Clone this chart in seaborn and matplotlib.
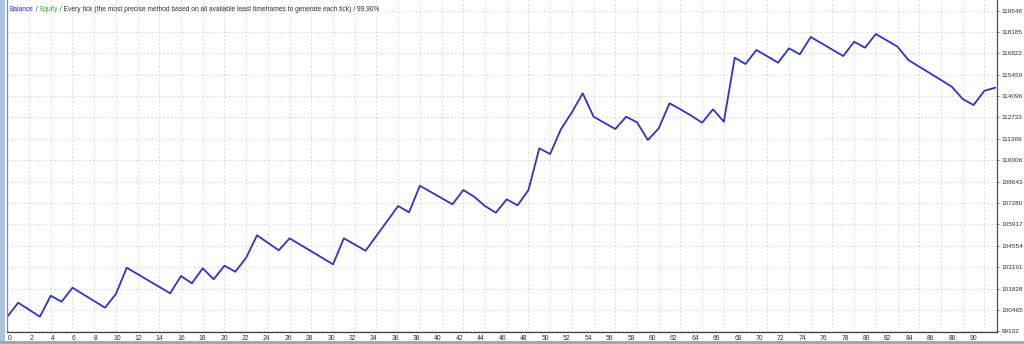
import matplotlib
matplotlib.use("Agg")
import matplotlib.pyplot as plt
import seaborn as sns
import pandas as pd
from matplotlib.patches import Rectangle

# ---------------- data ----------------
trade_numbers = list(range(92))
balance = [
    100039, 100931, 100485, 100039, 101377, 100994, 101887, 101462, 101037, 100612,
    101485, 103161, 102753, 102345, 101938, 101530, 102632, 102167, 103123, 102422,
    103288, 102906, 103798, 105226, 104748, 104270, 105034, 104620, 104206, 103792,
    103378, 105034, 104639, 104244, 105193, 106143, 107092, 106691, 108386, 107991,
    107596, 107201, 108112, 107685, 107092, 106666, 107519, 107137, 108112, 110769,
    110406, 111999, 113063, 114274, 112783, 112391, 111999, 112783, 112426, 111298,
    112044, 113637, 113254, 112846, 112400, 113254, 112464, 116542, 116141, 117033,
    116631, 116224, 117141, 116759, 117861, 117460, 117052, 116650, 117562, 117179,
    118052, 117651, 117243, 116396, 115969, 115548, 115121, 114694, 113911, 113528,
    114439, 114631,
]
y_ticks = [99102, 100465, 101828, 103191, 104554, 105917, 107280, 108643,
           110006, 111369, 112733, 114096, 115459, 116822, 118185, 119548]
x_ticks = list(range(0, 91, 2))
header_parts = [
    ("Balance", "#2a2ad0"),
    (" / ", "#303030"),
    ("Equity", "#22b822"),
    (" / Every tick (the most precise method based on all available least timeframes to generate each tick) / 99.90%", "#303030"),
]

df = pd.DataFrame({"trade": trade_numbers, "balance": balance})

# ---------------- style ----------------
sns.set_theme(style="white")
plt.rcParams['font.family'] = ['Liberation Sans', 'DejaVu Sans']

W, H = 1024, 344
fig = plt.figure(figsize=(W / 100, H / 100), dpi=100)
fig.patch.set_facecolor("white")
ax = fig.add_axes([7 / W, 12 / H, 990 / W, 332 / H])
ax.set_facecolor("white")

sns.lineplot(data=df, x="trade", y="balance", color="#3232c8", linewidth=1.3, ax=ax)

ax.set_xlim(-0.03, 91.16)
ax.set_ylim(99064, 120220)

# y axis on the right
ax.yaxis.tick_right()
ax.set_yticks(y_ticks)
ax.set_yticklabels([str(v) for v in y_ticks])
ax.tick_params(axis="y", which="major", right=True, left=False, length=2, width=0.6,
               color="#909090", labelsize=4.6, pad=1.2, labelcolor="#303030")

# x grid at even trades (minor), labels on slightly drifting positions (major)
ax.set_xticks(x_ticks, minor=True)
ax.set_xticks([0.221 + 0.9865 * v for v in x_ticks])
ax.set_xticklabels([str(v) for v in x_ticks])
ax.tick_params(axis="x", which="both", length=0, labelsize=4.9, pad=2.5, labelcolor="#303030")

grid_kw = dict(color="#dadada", linestyle=(0, (1.5, 2.0)), linewidth=0.8)
ax.grid(False)
ax.xaxis.grid(True, which="minor", **grid_kw)
ax.xaxis.grid(False, which="major")
ax.yaxis.grid(True, which="major", **grid_kw)
ax.set_axisbelow(True)

ax.set_xlabel("")
ax.set_ylabel("")
for side, col in [("left", "#8a8a8a"), ("bottom", "#404040"), ("right", "#505050")]:
    ax.spines[side].set_visible(True)
    ax.spines[side].set_color(col)
    ax.spines[side].set_linewidth(0.9)
ax.spines["top"].set_visible(False)

# window chrome
fig.patches.append(Rectangle((0, 0), 5 / W, 1, transform=fig.transFigure,
                             facecolor="#a9c3df", edgecolor="none", zorder=0))
fig.patches.append(Rectangle((0, 0), 1, 3 / H, transform=fig.transFigure,
                             facecolor="#a8a8a8", edgecolor="none", zorder=0))

# header text with coloured parts
fig.canvas.draw()
renderer = fig.canvas.get_renderer()
x_px = 10.0
y_fig = 1 - 9.5 / H
for txt, col in header_parts:
    t = fig.text(x_px / W, y_fig, txt, color=col, fontsize=4.8, va="center", ha="left")
    bb = t.get_window_extent(renderer=renderer)
    x_px += bb.width

fig.savefig("out.png", dpi=100, facecolor="white")
